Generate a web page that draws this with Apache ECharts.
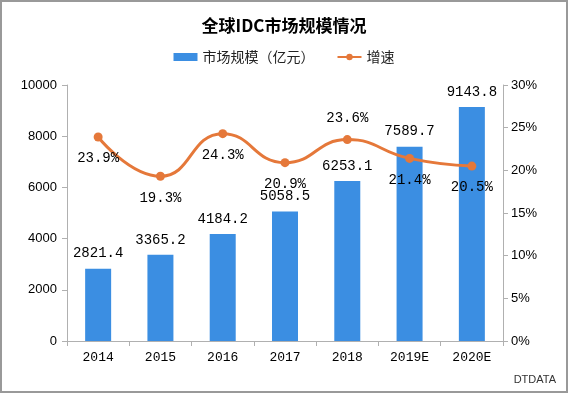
<!DOCTYPE html>
<html><head><meta charset="utf-8">
<script src="https://cdn.jsdelivr.net/npm/echarts@6/dist/echarts.min.js"></script>
<style>html,body{margin:0;padding:0;background:#fff}#c{width:568px;height:393px;box-sizing:border-box;border:2px solid #999}</style>
</head><body><div id="c"></div>
<script>
const categories = ['2014','2015','2016','2017','2018','2019E','2020E'];
const marketSize = [2821.4, 3365.2, 4184.2, 5058.5, 6253.1, 7589.7, 9143.8];
const growth = [23.9, 19.3, 24.3, 20.9, 23.6, 21.4, 20.5];
const growthLabelPos = ['bottom','bottom','bottom','bottom','top','bottom','bottom'];
const leftTicks = [0, 10000, 2000];
const rightTicks = [0, 30, 5];

const chart = echarts.init(document.getElementById('c'));
const mono = '"Liberation Mono", "DejaVu Sans Mono", monospace';
const axisColor = '#b0b0b0';
chart.setOption({
  animation: false,
  title: {text: '全球IDC市场规模情况', left: 'center', top: 10,
    textStyle: {fontSize: 17, fontWeight: 'bold', color: '#000', fontFamily: '"Noto Sans CJK SC", serif'}},
  legend: {top: 43, left: 'center', itemGap: 22, itemWidth: 24, itemHeight: 8,
    textStyle: {fontSize: 14, color: '#222', fontFamily: '"Noto Sans CJK SC", sans-serif'},
    data: [{name: '市场规模（亿元）', icon: 'rect'}, {name: '增速'}]},
  grid: {left: 65, right: 63, top: 83, bottom: 50},
  xAxis: {type: 'category', data: categories,
    axisLine: {lineStyle: {color: axisColor}},
    axisTick: {show: true, lineStyle: {color: axisColor}},
    axisLabel: {color: '#000', fontSize: 13, fontFamily: mono, margin: 10}},
  yAxis: [
    {type: 'value', min: leftTicks[0], max: leftTicks[1], interval: leftTicks[2],
      axisLine: {show: true, lineStyle: {color: axisColor}},
      axisTick: {show: true, lineStyle: {color: axisColor}},
      splitLine: {show: false},
      axisLabel: {color: '#000', fontSize: 13, fontFamily: 'Liberation Sans, sans-serif', margin: 10,
        formatter: v => String(v)}},
    {type: 'value', min: rightTicks[0], max: rightTicks[1], interval: rightTicks[2],
      axisLine: {show: true, lineStyle: {color: axisColor}},
      axisTick: {show: true, lineStyle: {color: axisColor}},
      splitLine: {show: false},
      axisLabel: {color: '#000', fontSize: 13, fontFamily: 'Liberation Sans, sans-serif', margin: 8, formatter: '{value}%'}}
  ],
  series: [
    {name: '市场规模（亿元）', type: 'bar', data: marketSize, barWidth: 26,
      itemStyle: {color: '#3b8ee2'},
      label: {show: true, position: 'top', distance: 8, color: '#000', fontSize: 14, fontFamily: mono,
        formatter: p => p.value.toFixed(1)}},
    {name: '增速', type: 'line', yAxisIndex: 1, smooth: 0.5, symbol: 'circle', symbolSize: 9,
      data: growth.map((v, i) => ({value: v, label: {position: growthLabelPos[i]}})),
      lineStyle: {color: '#e5783a', width: 3}, itemStyle: {color: '#e5783a'},
      label: {show: true, distance: 10, color: '#000', fontSize: 14, fontFamily: mono,
        formatter: p => p.value.toFixed(1) + '%'}}
  ],
  graphic: [{type: 'text', right: 10, bottom: 6,
    style: {text: 'DTDATA', fontSize: 11, fill: '#333', fontFamily: 'Liberation Sans, sans-serif'}}]
});
</script></body></html>
